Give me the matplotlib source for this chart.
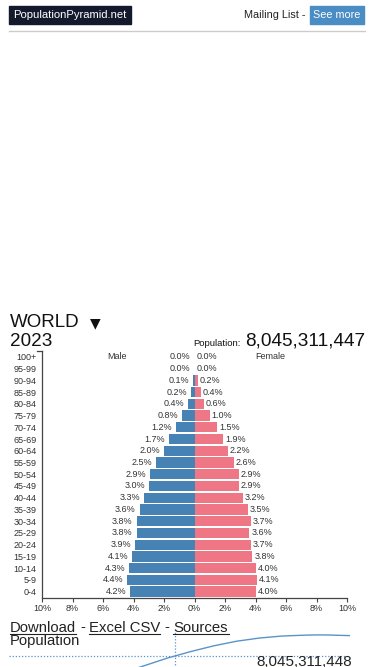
import numpy as np
import matplotlib.pyplot as plt
from matplotlib.patches import Rectangle

plt.rcParams['font.family'] = ['Liberation Sans', 'DejaVu Sans']

ages = ['0-4', '5-9', '10-14', '15-19', '20-24', '25-29', '30-34', '35-39',
        '40-44', '45-49', '50-54', '55-59', '60-64', '65-69', '70-74',
        '75-79', '80-84', '85-89', '90-94', '95-99', '100+']
male = [4.2, 4.4, 4.3, 4.1, 3.9, 3.8, 3.8, 3.6, 3.3, 3.0, 2.9,
        2.5, 2.0, 1.7, 1.2, 0.8, 0.4, 0.2, 0.1, 0.0, 0.0]
female = [4.0, 4.1, 4.0, 3.8, 3.7, 3.6, 3.7, 3.5, 3.2, 2.9, 2.9,
          2.6, 2.2, 1.9, 1.5, 1.0, 0.6, 0.4, 0.2, 0.0, 0.0]
xticks = [-10, -8, -6, -4, -2, 0, 2, 4, 6, 8, 10]

years = [1950, 1960, 1970, 1980, 1990, 2000, 2010, 2020, 2023, 2030,
         2040, 2050, 2060, 2070, 2080, 2086, 2090, 2100]
population = [2.50, 3.02, 3.70, 4.44, 5.32, 6.15, 6.99, 7.84, 8.045, 8.55,
              9.19, 9.71, 10.07, 10.30, 10.40, 10.43, 10.42, 10.35]

W, H = 375, 667
BLUE = '#4682b4'
PINK = '#ee7685'
TXT = '#333333'
SMALL = 6.5


def box(x0, y0, x1, y1):
    # pixel box (top-left origin) -> figure fraction rect
    return [x0 / W, 1 - y1 / H, (x1 - x0) / W, (y1 - y0) / H]


fig = plt.figure(figsize=(W / 100, H / 100), dpi=100)


def ftext(x, y, s, **kw):
    return fig.text(x / W, 1 - y / H, s, **kw)


# header
fig.patches.append(Rectangle((9 / W, 1 - 24 / H), 122 / W, 18 / H,
                             transform=fig.transFigure, color='#131a2c'))
ftext(70, 15.5, 'PopulationPyramid.net', color='white', fontsize=8.1,
      ha='center', va='center')
ftext(306, 15.5, 'Mailing List -', color='#222222', fontsize=7.8,
      ha='right', va='center')
fig.patches.append(Rectangle((310 / W, 1 - 24 / H), 54 / W, 18 / H,
                             transform=fig.transFigure, color='#4a8cc4'))
ftext(337, 15.5, 'See more', color='white', fontsize=7.8,
      ha='center', va='center')
fig.add_artist(plt.Line2D([9 / W, 365 / W], [1 - 30.5 / H] * 2,
                          color='#cccccc', lw=1))

# title block
ftext(10, 322, 'WORLD', fontsize=13.5, color='#111111', va='center')
ftext(95, 323, '\u25bc', fontsize=10, color='#111111', va='center',
      ha='center', family=['DejaVu Sans'])
ftext(10, 341, '2023', fontsize=13.6, color='#111111', va='center')
ftext(193, 343.5, 'Population:', fontsize=6.8, color='#111111', va='center')
ftext(365, 341, '8,045,311,447', fontsize=13.7, color='#111111',
      va='center', ha='right')

# pyramid
ax = fig.add_axes(box(42, 351, 347, 597.5))
y = np.arange(len(ages))
ax.barh(y, [-m for m in male], height=0.88, color=BLUE, edgecolor='none')
ax.barh(y, female, height=0.88, color=PINK, edgecolor='none')
for i in range(len(ages)):
    ax.text(-male[i] - 0.25, y[i], f'{male[i]:.1f}%', ha='right',
            va='center', fontsize=SMALL, color=TXT)
    ax.text(female[i] + 0.12, y[i], f'{female[i]:.1f}%', ha='left',
            va='center', fontsize=SMALL, color=TXT)
ax.text(-5.05, 20, 'Male', ha='center', va='center', fontsize=SMALL,
        color=TXT)
ax.text(4.97, 20, 'Female', ha='center', va='center', fontsize=SMALL,
        color=TXT)
ax.set_xlim(-10, 10)
ax.set_ylim(-0.5, len(ages) - 0.5)
ax.set_yticks(y)
ax.set_yticklabels(ages, fontsize=SMALL, color=TXT)
ax.tick_params(axis='y', length=0, pad=4)
ax.set_xticks(xticks)
ax.set_xticklabels([f'{abs(t)}%' for t in xticks], fontsize=SMALL,
                   color=TXT)
ax.tick_params(axis='x', length=3, width=0.8, color='#444444', pad=2)
for s in ['top', 'right']:
    ax.spines[s].set_visible(False)
for s in ['left', 'bottom']:
    ax.spines[s].set_color('#444444')
    ax.spines[s].set_linewidth(0.9)
ax.plot([-10.35, -10], [len(ages) - 0.5] * 2, color='#444444', lw=0.9,
        clip_on=False)
ax.set_facecolor('none')

# links
LINK = 10.7
ftext(10, 627.5, 'Download', fontsize=LINK, color='#222222', va='center')
ftext(82.5, 627.5, '-', fontsize=LINK, color='#222222', va='center',
      ha='center')
ftext(89, 627.5, 'Excel CSV', fontsize=LINK, color='#222222', va='center')
ftext(166.5, 627.5, '-', fontsize=LINK, color='#222222', va='center',
      ha='center')
ftext(173, 627.5, 'Sources', fontsize=LINK, color='#222222', va='center')
for x0, x1 in [(10, 76), (89, 160), (173, 229)]:
    fig.add_artist(plt.Line2D([x0 / W, x1 / W], [1 - 634 / H] * 2,
                              color='#222222', lw=0.8))
ftext(10, 641, 'Population', fontsize=LINK, color='#222222', va='center')

# population line chart (cropped at bottom of page)
ax2 = fig.add_axes(box(9, 560, 350, 720))
ax2.plot(years, population, color='#5b93c8', lw=1.0)
ax2.axhline(8.045, color='#5b93c8', lw=0.9, ls=(0, (1, 1.5)))
ax2.axvline(2023, color='#5b93c8', lw=0.9, ls=(0, (1, 1.5)),
            ymax=(720 - 630) / 160)
ax2.set_xlim(1950, 2100)
ax2.set_ylim(8.045 - 64 / 8.85, 8.045 + 96 / 8.85)
ax2.axis('off')
ftext(352, 661.5, '8,045,311,448', fontsize=10.9, color='#222222',
      va='center', ha='right')

fig.savefig('out.png', dpi=100)
